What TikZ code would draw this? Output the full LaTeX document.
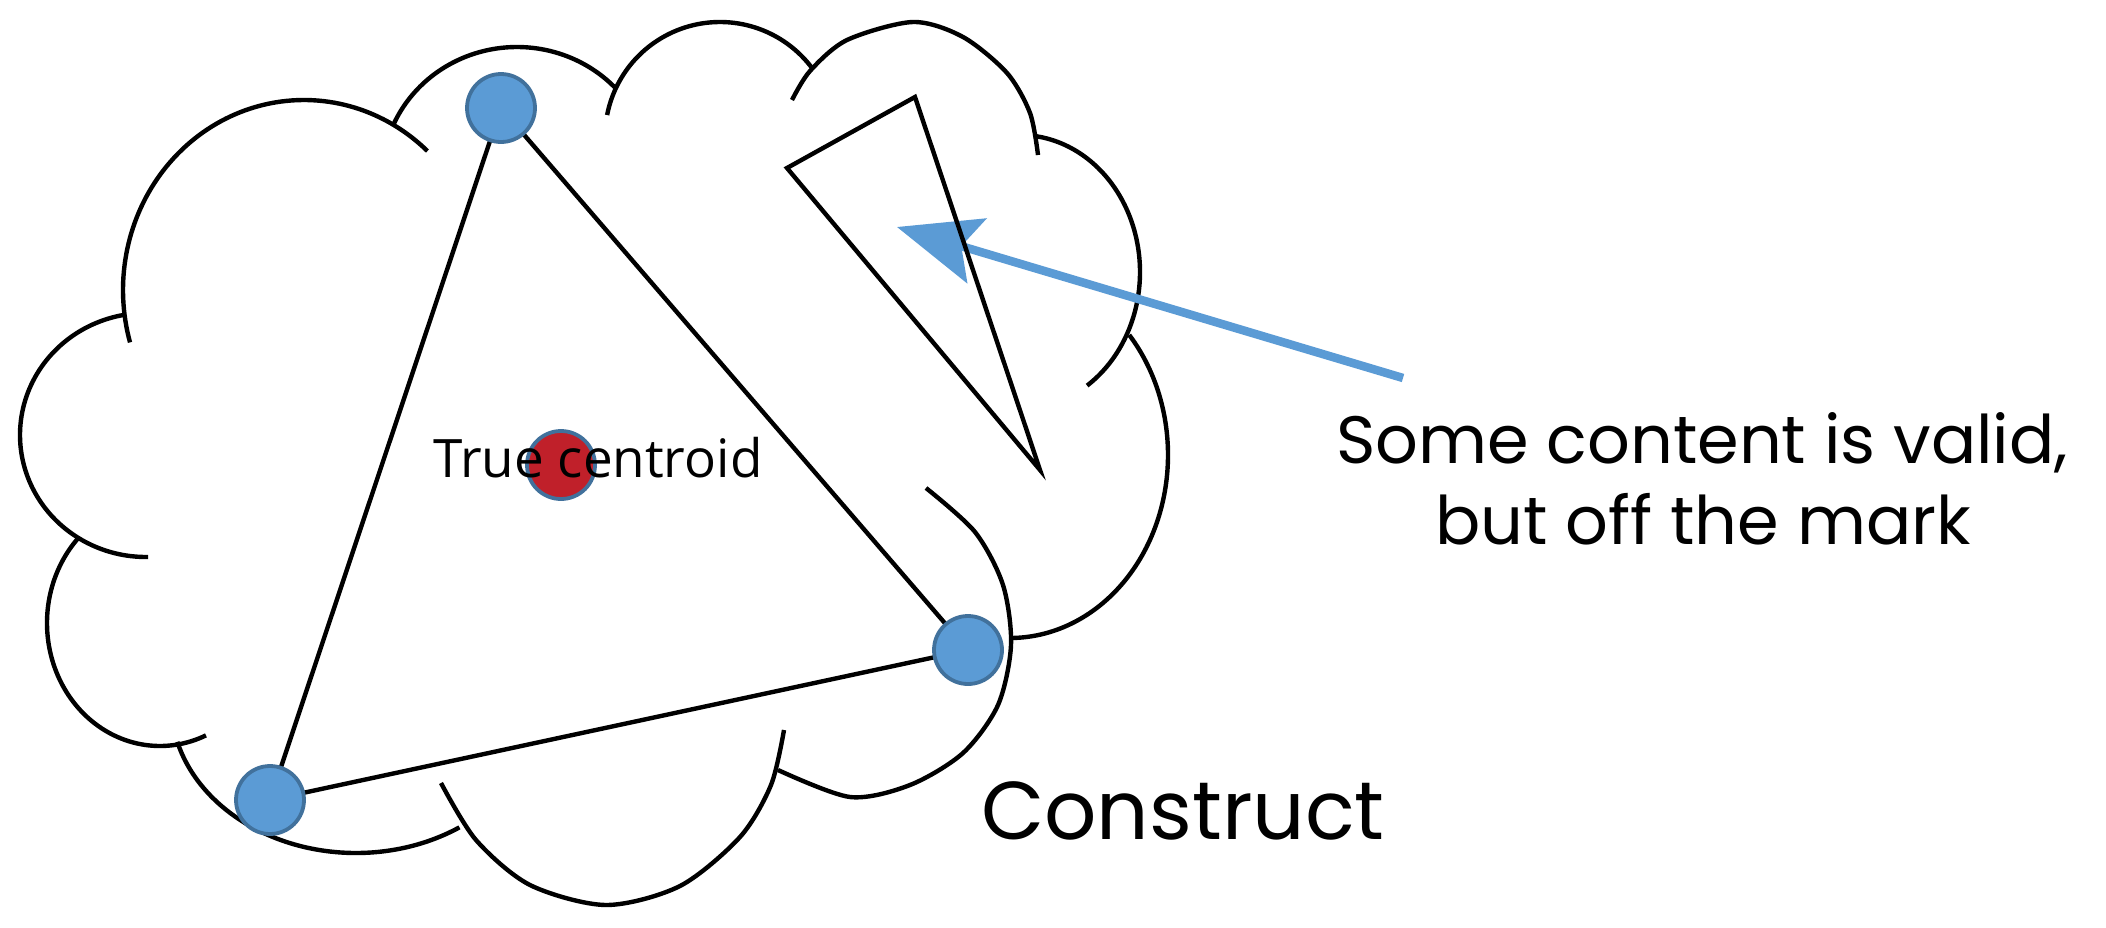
\documentclass[tikz,border=0pt]{standalone}
\usepackage{fontspec}
\usetikzlibrary{arrows.meta}
\newfontfamily\labelfont{Open Sans}
\newfontfamily\notefont{Poppins}
\definecolor{dotblue}{HTML}{5B9BD5}
\definecolor{dotedge}{HTML}{41719C}
\definecolor{dotred}{HTML}{C0202A}
\pgfdeclarelayer{backdrop}
\pgfdeclarelayer{bg}
\pgfsetlayers{backdrop,bg,main}
\tikzset{
  cloudline/.style={black, line width=4.4pt},
  edgeline/.style={black, line width=4.4pt},
  vertexdot/.style={circle, draw=dotedge, fill=dotblue, line width=3.8pt, minimum size=68pt, inner sep=0pt},
  centroiddot/.style={vertexdot, fill=dotred},
  pointer/.style={draw=dotblue, line width=8.5pt, -{Stealth[length=83pt, width=67pt, inset=16pt]}},
  notetext/.style={font=\notefont\fontsize{67}{81}\selectfont, anchor=base, inner sep=0pt},
}
\newcommand\cloudlobe[6]{\draw[cloudline] plot[domain=#5:#6, samples=90, variable=\t] ({#1+#3*cos(\t)},{#2+#4*sin(\t)});}
\begin{document}
\begin{tikzpicture}[x=1pt, y=-1pt]
\begin{pgfonlayer}{backdrop}
  \fill[white] (0,0) rectangle (2106,927);
\end{pgfonlayer}
\useasboundingbox (0,0) rectangle (2106,927);

% vertices
\node[vertexdot] (top) at (501,108) {};
\node[vertexdot] (left) at (270,800) {};
\node[vertexdot] (right) at (968,650) {};

\begin{pgfonlayer}{bg}
  % cloud lobes
  \cloudlobe{146}{435}{126}{122}{89}{260}
  \cloudlobe{304}{290}{181}{190}{164}{313}
  \cloudlobe{517}{177}{135}{130}{204}{317}
  \cloudlobe{720}{137}{115}{115}{191}{323}
  \draw[cloudline] plot[smooth] coordinates {(792,100) (810,71) (847,40) (913,22) (963,37) (1007,73) (1030,113) (1038,155)};
  \cloudlobe{1020}{272}{120}{137}{-82}{56}
  \cloudlobe{1010}{455}{158}{183}{-41}{89}
  \draw[cloudline] plot[smooth] coordinates {(926,488) (975,532) (1003,585) (1011,645) (998,705) (963,753) (910,785) (850,797) (778,770)};
  \draw[cloudline] plot[smooth] coordinates {(441,783) (476,840) (530,885) (606,905) (680,886) (740,837) (771,785) (784,730)};
  \cloudlobe{356}{703}{185}{150}{56}{165}
  \cloudlobe{160}{623}{113}{123}{66}{224}
  % triangle edges
  \draw[edgeline] (top.center) -- (left.center);
  \draw[edgeline] (top.center) -- (right.center);
  \draw[edgeline] (left.center) -- (right.center);
  % pointer arrow
  \coordinate (arrowtail) at (1403,378);
  \coordinate (arrowtip) at (897,227);
  \draw[pointer] (arrowtail) -- (arrowtip);
\end{pgfonlayer}

% off-the-mark triangle
\coordinate (s1) at (787,168);
\coordinate (s2) at (915,97);
\coordinate (s3) at (1040,470);
\draw[edgeline] (s1) -- (s2) -- (s3) -- cycle;

% centroid
\node[centroiddot] (centroid) at (561,465) {};
\node[font=\labelfont\fontsize{53}{60}\selectfont, anchor=base, inner sep=0pt] (truelabel) at (598,477) {True centroid};

% labels
\node[notetext] (note1) at (1702,463) {Some content is valid,};
\node[notetext] (note2) at (1703,544) {but off the mark};
\node[font=\notefont\fontsize{82}{100}\selectfont, anchor=base, inner sep=0pt] (construct) at (1183,839) {Construct};
\end{tikzpicture}
\end{document}
